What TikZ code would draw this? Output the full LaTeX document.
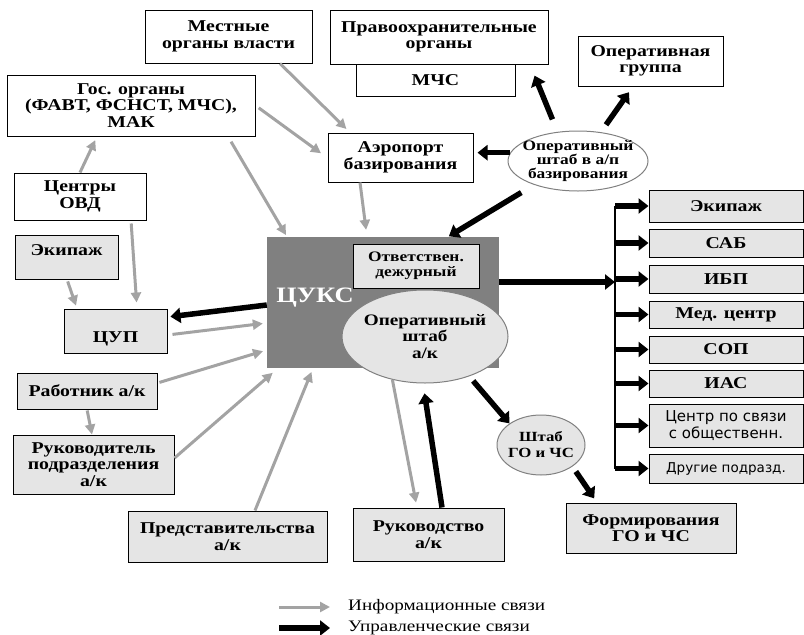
\documentclass[tikz,border=0pt]{standalone}
\usepackage{fontspec}
\setmainfont{Liberation Serif}[FakeStretch=1.2]
\newfontfamily\sansrus{DejaVu Sans}
\usetikzlibrary{arrows.meta,shapes.geometric}
\definecolor{boxgray}{gray}{0.9}
\definecolor{infogray}{gray}{0.64}
\definecolor{cuksgray}{gray}{0.5}
\tikzset{
  box/.style={draw=black,line width=1pt,fill=white,align=center,inner sep=0pt,
    font=\bfseries\fontsize{16.5}{16.5}\selectfont},
  grbox/.style={box,fill=boxgray},
  oval/.style={ellipse,draw=gray,line width=1pt,fill=boxgray,align=center,
    inner xsep=-14pt,inner ysep=-6pt,font=\bfseries\fontsize{16}{16.5}\selectfont},
  info/.style={draw=infogray,line width=3pt,-{Triangle[length=10pt,width=10pt]}},
  ctrl/.style={draw=black,line width=5.5pt,-{Triangle[length=10pt,width=15pt]}}
}
\begin{document}
\begin{tikzpicture}[x=1pt,y=-1pt]
    \useasboundingbox (0,0) rectangle (804,635);

      \begin{scope}[every node/.style={box}]
        \node[minimum width=167pt,minimum height=53pt] (mestnye) at (228.5,36.5) {Местные\\органы власти};
        \node[minimum width=159pt,minimum height=32pt] (mchs)    at (435.5,80)   {МЧС};
        \node[minimum width=218pt,minimum height=54pt] (pravo)   at (439,37)     {Правоохранительные\\органы};
        \node[minimum width=145pt,minimum height=50pt] (opgr)    at (650.5,61)   {Оперативная\\группа};
        \node[minimum width=248pt,minimum height=61pt] (gos)     at (131,105.5)  {Гос. органы\\(ФАВТ, ФСНСТ, МЧС),\\МАК};
        \node[minimum width=145pt,minimum height=49pt] (aero)    at (400.5,157.5) {Аэропорт\\базирования};
        \node[minimum width=132pt,minimum height=47pt] (ovd)     at (80,196.5)   {Центры\\ОВД};
      \end{scope}

      \node[fill=cuksgray,minimum width=232pt,minimum height=131pt] (cuks) at (383,302.5) {};
      \node[text=white,font=\bfseries\fontsize{22}{22}\selectfont] (cukstext) at (315,298) {ЦУКС};

      \begin{scope}[every node/.style={grbox}]
        \node[minimum width=103pt,text height=20pt,text depth=24pt] (ekipL) at (66.5,257) {Экипаж};
        \node[minimum width=103pt,text height=33pt,text depth=11pt] (cup)   at (115.5,331) {ЦУП};
        \node[minimum width=140pt,minimum height=36pt] (rabotnik) at (87,391)     {Работник а/к};
        \node[minimum width=161pt,minimum height=59pt] (rukpodr)  at (93.5,464.5) {Руководитель\\подразделения\\а/к};
        \node[minimum width=199pt,minimum height=51pt] (predst)   at (227.5,536.5) {Представительства\\а/к};
        \node[minimum width=151pt,minimum height=53pt] (rukovod)  at (428.5,534.5) {Руководство\\а/к};
        \node[minimum width=170pt,minimum height=50pt] (form)     at (651,528)    {Формирования\\ГО и ЧС};
        \node[minimum width=126pt,minimum height=44pt,font=\bfseries\fontsize{14.5}{15}\selectfont] (otv) at (416,266) {Ответствен.\\дежурный};
        \node[minimum width=154pt,minimum height=32pt] (ekipR)  at (726,206)   {Экипаж};
        \node[minimum width=154pt,minimum height=28pt] (sab)    at (726,243)   {САБ};
        \node[minimum width=154pt,minimum height=28pt] (ibp)    at (726,279)   {ИБП};
        \node[minimum width=154pt,minimum height=27pt] (med)    at (726,314.5) {Мед. центр};
        \node[minimum width=154pt,minimum height=27pt] (sop)    at (726,349.5) {СОП};
        \node[minimum width=154pt,minimum height=27pt] (ias)    at (726,383.5) {ИАС};
        \node[minimum width=154pt,minimum height=43pt,font=\sansrus\fontsize{15}{17}\selectfont] (centr)  at (726,425.5) {Центр по связи\\с общественн.};
        \node[minimum width=154pt,minimum height=29pt,font=\sansrus\fontsize{13.5}{15}\selectfont] (drugie) at (726,468.5) {Другие подразд.};
      \end{scope}

      \begin{scope}[every node/.style={oval}]
        \node[minimum width=166pt,minimum height=93pt] (opshtab) at (425,336.5) {Оперативный\\штаб\\а/к};
        \node[minimum width=140pt,minimum height=60pt,fill=white,font=\bfseries\fontsize{14.5}{14}\selectfont] (shtabap) at (578,161) {Оперативный\\штаб в а/п\\базирования};
        \node[minimum width=88pt,minimum height=60pt,font=\bfseries\fontsize{14}{16}\selectfont] (shtabgo) at (541,445) {Штаб\\ГО и ЧС};
      \end{scope}

      \coordinate (bus) at (615,206);
      \draw[line width=2pt] (bus) -- (bus |- drugie.west);

      \begin{scope}[every edge/.style={info}]
        \path (280,0 |- mestnye.south) edge[shorten >=5pt] (350,0 |- aero.north);
        \path (gos.east) edge[shorten <=4pt,shorten >=8pt] (aero.west |- 0,158);
        \path (228,0 |- gos.south) edge[shorten <=6pt,shorten >=2pt] (287,0 |- cuks.north);
        \path (80,0 |- ovd.north) edge[shorten >=4pt] (97,0 |- gos.south);
        \path (360,0 |- aero.south) edge[shorten >=7pt] (367,0 |- cuks.north);
        \path (131,0 |- ovd.south) edge[shorten <=3pt,shorten >=6pt] (137,0 |- cup.north);
        \path (67,0 |- ekipL.south) edge[shorten <=2pt,shorten >=3pt] (77,0 |- cup.north);
        \path (cup.east |- 0,335) edge[shorten <=5pt,shorten >=4pt] (cuks.west |- 0,323);
        \path (rabotnik.east |- 0,383) edge[shorten <=2pt,shorten >=4pt] (cuks.west |- 0,350);
        \path (rukpodr.east |- 0,458) edge[shorten >=7pt] (278,0 |- cuks.south);
        \path (255,0 |- predst.north) edge[shorten >=4pt] (313,0 |- cuks.south);
        \path (87,0 |- rabotnik.south) edge[shorten <=1pt] (92,0 |- rukpodr.north);
        \path (opshtab.233) edge[shorten >=5pt] (417,0 |- rukovod.north);
      \end{scope}

      \begin{scope}[every edge/.style={ctrl}]
        \path (shtabap.173) edge[shorten >=4pt] (aero.east |- shtabap.173);
        \path (557,0 |- shtabap.north) edge[shorten <=12pt,shorten >=12pt] (530,0 |- pravo.south);
        \path (602,0 |- shtabap.north) edge[shorten <=7pt,shorten >=7pt] (633,0 |- opgr.south);
        \path (523,0 |- shtabap.south) edge[shorten <=2pt,shorten >=1pt] (448,0 |- cuks.north);
        \path (cuks.west |- 0,305) edge[shorten >=3pt] (cup.east |- 0,317);
        \path (cuks.east |- 0,282) edge (bus |- 0,282);
        \path (opshtab.318) edge[shorten <=6pt] (shtabgo.north west);
        \path (shtabgo.south east) edge[shorten <=6pt,shorten >=5pt] (597,0 |- form.north);
        \path (442,0 |- rukovod.north) edge[shorten >=10pt] (423,0 |- opshtab.south);
        \path (bus |- ekipR.west)  edge (ekipR.west);
        \path (bus |- sab.west)    edge (sab.west);
        \path (bus |- ibp.west)    edge (ibp.west);
        \path (bus |- med.west)    edge (med.west);
        \path (bus |- sop.west)    edge (sop.west);
        \path (bus |- ias.west)    edge (ias.west);
        \path (bus |- centr.west)  edge (centr.west);
        \path (bus |- drugie.west) edge (drugie.west);
      \end{scope}

      \begin{scope}[every node/.style={anchor=west,inner sep=0pt,font=\fontsize{16}{17}\selectfont}]
        \node (tinfo) at (348,607) {Информационные связи};
        \node (tctrl) at (348,628) {Управленческие связи};
      \end{scope}
      \coordinate (linfo) at (279,607);
      \coordinate (lctrl) at (279,628);
      \draw[info] (linfo) -- ([xshift=-18pt]tinfo.west);
      \draw[ctrl] (lctrl) -- ([xshift=-18pt]tctrl.west);

    \end{tikzpicture}
\end{document}
